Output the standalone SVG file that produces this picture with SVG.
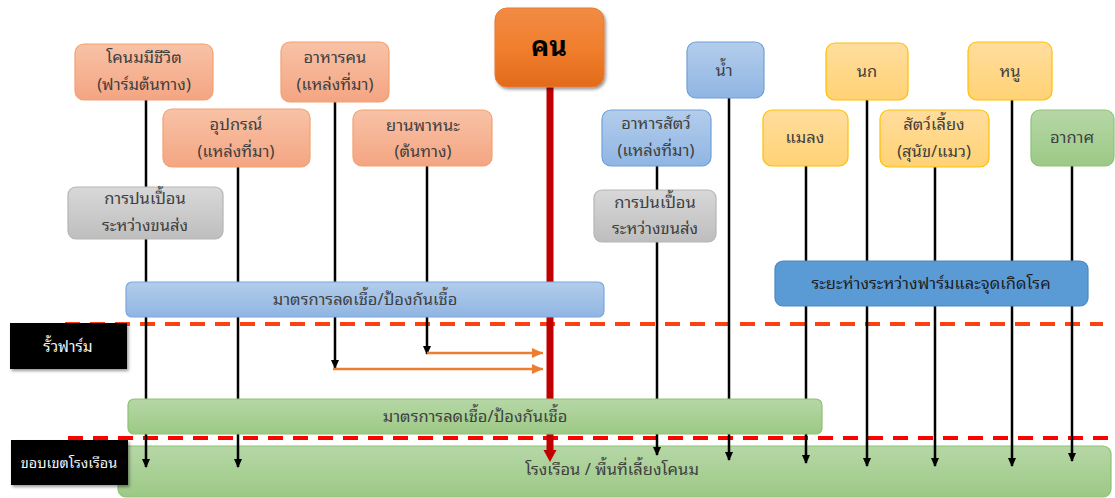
<svg xmlns="http://www.w3.org/2000/svg" width="1115" height="498" viewBox="0 0 1115 498">
<style>
text{font-family:"Noto Sans Thai Looped","Noto Sans Thai","Noto Sans","DejaVu Sans",Tahoma,sans-serif;font-size:16.5px;fill:#404040;text-anchor:middle}
.w{fill:#f2f2f2}
.big{font-size:27px;font-weight:bold;fill:#000}
.or{fill:url(#gOr);stroke:#F4A070;stroke-width:1.2}
.bl{fill:url(#gBl);stroke:#6FA0D9;stroke-width:1.2}
.gr{fill:url(#gGr);stroke:#B5B5B5;stroke-width:1.2}
.ye{fill:url(#gYe);stroke:#FFC000;stroke-width:1.2}
.gn{fill:url(#gGn);stroke:#8DC276;stroke-width:1.2}
.lk{stroke:#000;stroke-width:2.5;fill:none;marker-end:url(#ak)}
.lo{stroke:#ED7D31;stroke-width:2.5;fill:none;marker-end:url(#ao)}
.lab{fill:#000}
</style>
<defs>
<linearGradient id="gOr" x1="0" y1="0" x2="0" y2="1"><stop offset="0" stop-color="#F8C2A6"/><stop offset="1" stop-color="#F4A582"/></linearGradient>
<linearGradient id="gKn" x1="0" y1="0" x2="0" y2="1"><stop offset="0" stop-color="#F28B44"/><stop offset="0.5" stop-color="#F07F2E"/><stop offset="1" stop-color="#E26B1A"/></linearGradient>
<linearGradient id="gBl" x1="0" y1="0" x2="0" y2="1"><stop offset="0" stop-color="#B3CDEB"/><stop offset="1" stop-color="#90B5E3"/></linearGradient>
<linearGradient id="gGr" x1="0" y1="0" x2="0" y2="1"><stop offset="0" stop-color="#D8D8D8"/><stop offset="1" stop-color="#BEBEBE"/></linearGradient>
<linearGradient id="gYe" x1="0" y1="0" x2="0" y2="1"><stop offset="0" stop-color="#FFDD9E"/><stop offset="1" stop-color="#FFD274"/></linearGradient>
<linearGradient id="gGn" x1="0" y1="0" x2="0" y2="1"><stop offset="0" stop-color="#B6D7A6"/><stop offset="1" stop-color="#9CC985"/></linearGradient>
<filter id="sh" x="-10%" y="-10%" width="130%" height="140%"><feDropShadow dx="1.5" dy="2" stdDeviation="1.5" flood-color="#000" flood-opacity="0.4"/></filter>
<marker id="ak" markerWidth="10" markerHeight="10" refX="8" refY="4" orient="auto" markerUnits="userSpaceOnUse"><path d="M0,0 L9,4 L0,8 Z" fill="#000"/></marker>
<marker id="ao" markerWidth="12" markerHeight="12" refX="11" refY="5" orient="auto" markerUnits="userSpaceOnUse"><path d="M0,0 L11,5 L0,10 Z" fill="#ED7D31"/></marker>
</defs>

<g id="house">
<rect x="118" y="446" width="993" height="51" rx="8" class="gn"/>
<text x="612" y="475">โรงเรือน / พื้นที่เลี้ยงโคนม</text>
</g>

<g id="boundaries">
<line x1="65" y1="324" x2="1103" y2="324" stroke="#FF4010" stroke-width="4" stroke-dasharray="15 10"/>
<line x1="68" y1="438" x2="1115" y2="438" stroke="#FF0000" stroke-width="4" stroke-dasharray="15 10"/>
</g>

<g id="connectors">
<line class="lk" x1="146" y1="100" x2="146" y2="467"/>
<line class="lk" x1="238" y1="167" x2="238" y2="467"/>
<line class="lk" x1="335" y1="102" x2="335" y2="368"/>
<line class="lk" x1="427" y1="166" x2="427" y2="354"/>
<line class="lo" x1="333" y1="369" x2="543" y2="369"/>
<line class="lo" x1="427" y1="353" x2="543" y2="353"/>
<line stroke="#C00000" stroke-width="7" x1="550" y1="87" x2="550" y2="452"/>
<path d="M543.5,450 L556.5,450 L550,462 Z" fill="#C00000"/>
<line class="lk" x1="657" y1="166" x2="657" y2="455"/>
<line class="lk" x1="729" y1="98" x2="729" y2="460"/>
<line class="lk" x1="806" y1="166" x2="806" y2="463"/>
<line class="lk" x1="867" y1="100" x2="867" y2="466"/>
<line class="lk" x1="935" y1="167" x2="935" y2="466"/>
<line class="lk" x1="1012" y1="100" x2="1012" y2="466"/>
<line class="lk" x1="1072" y1="166" x2="1072" y2="461"/>
</g>

<g id="n-dairy"><rect x="75" y="44" width="138" height="56" rx="9" class="or"/><text x="144" y="63">โคนมมีชีวิต</text><text x="144" y="90">(ฟาร์มต้นทาง)</text></g>
<g id="n-food"><rect x="281" y="42" width="108" height="60" rx="9" class="or"/><text x="335" y="63">อาหารคน</text><text x="335" y="90">(แหล่งที่มา)</text></g>
<g id="n-equip"><rect x="163" y="109" width="147" height="58" rx="9" class="or"/><text x="236" y="130">อุปกรณ์</text><text x="236" y="157">(แหล่งที่มา)</text></g>
<g id="n-vehicle"><rect x="353" y="110" width="139" height="56" rx="9" class="or"/><text x="423" y="131">ยานพาหนะ</text><text x="423" y="157">(ต้นทาง)</text></g>
<g id="n-contam1"><rect x="68" y="187" width="155" height="52" rx="8" class="gr"/><text x="145" y="204">การปนเปื้อน</text><text x="145" y="231">ระหว่างขนส่ง</text></g>
<g id="n-person"><rect x="495" y="8" width="109" height="79" rx="12" fill="url(#gKn)" stroke="#E87A30" filter="url(#sh)"/><text x="549" y="56" class="big">คน</text></g>
<g id="n-water"><rect x="687" y="42" width="77" height="56" rx="9" class="bl"/><text x="724" y="76">น้ำ</text></g>
<g id="n-feed"><rect x="602" y="110" width="109" height="56" rx="9" class="bl"/><text x="656" y="129">อาหารสัตว์</text><text x="656" y="156">(แหล่งที่มา)</text></g>
<g id="n-contam2"><rect x="594" y="190" width="122" height="52" rx="8" class="gr"/><text x="655" y="208">การปนเปื้อน</text><text x="655" y="234">ระหว่างขนส่ง</text></g>
<g id="n-insect"><rect x="763" y="110" width="85" height="56" rx="9" class="ye"/><text x="805" y="143">แมลง</text></g>
<g id="n-bird"><rect x="826" y="43" width="82" height="57" rx="9" class="ye"/><text x="867" y="77">นก</text></g>
<g id="n-pet"><rect x="880" y="110" width="109" height="57" rx="9" class="ye"/><text x="934" y="130">สัตว์เลี้ยง</text><text x="934" y="157">(สุนัข/แมว)</text></g>
<g id="n-rat"><rect x="968" y="42" width="84" height="58" rx="9" class="ye"/><text x="1010" y="77">หนู</text></g>
<g id="n-air"><rect x="1031" y="110" width="83" height="56" rx="9" class="gn"/><text x="1072" y="143">อากาศ</text></g>

<g id="n-measure1"><rect x="126" y="282" width="478" height="35" rx="6" fill="url(#gBl)" stroke="#7BA7DC" stroke-width="1.2"/><text x="365" y="305">มาตรการลดเชื้อ/ป้องกันเชื้อ</text></g>
<g id="n-distance"><rect x="775" y="261" width="313" height="45" rx="8" fill="#5B9BD5" stroke="#4A88C4" stroke-width="1.2"/><text x="931" y="289" style="fill:#1f1f1f">ระยะห่างระหว่างฟาร์มและจุดเกิดโรค</text></g>
<g id="n-measure2"><rect x="128" y="399" width="694" height="35" rx="6" class="gn"/><text x="475" y="422">มาตรการลดเชื้อ/ป้องกันเชื้อ</text></g>

<g id="l-fence"><rect x="10" y="323" width="117" height="46" class="lab" filter="url(#sh)"/><text x="68" y="352" class="w" style="font-size:15.5px">รั้วฟาร์ม</text></g>
<g id="l-house"><rect x="11" y="440" width="117" height="45" class="lab" filter="url(#sh)"/><text x="69" y="468" class="w" style="font-size:14.5px">ขอบเขตโรงเรือน</text></g>
</svg>
